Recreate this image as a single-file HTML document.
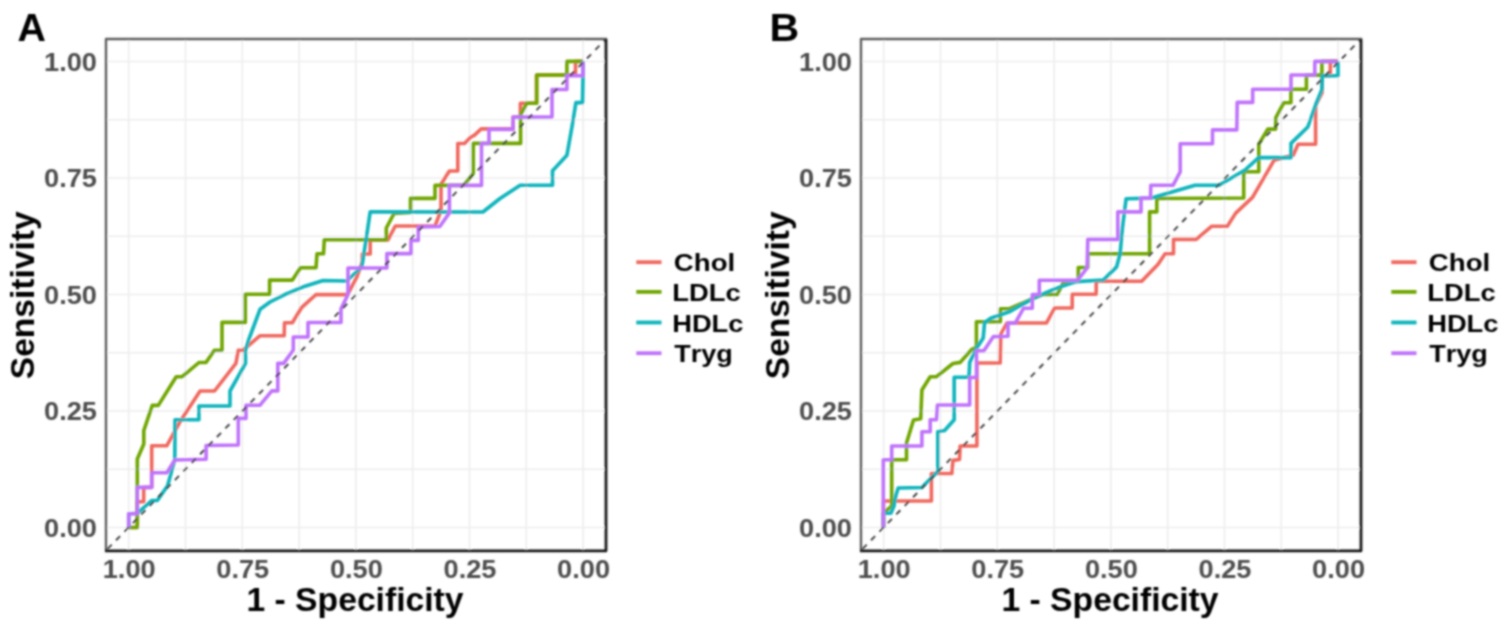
<!DOCTYPE html>
<html><head><meta charset="utf-8"><style>
html,body{margin:0;padding:0;background:#fff;overflow:hidden;width:1499px;height:627px;}
svg{display:block;}
text{font-family:"Liberation Sans", sans-serif;font-weight:bold;font-kerning:none;}
</style></head><body>
<svg width="1499" height="627" viewBox="0 0 1499 627">
<defs><filter id="bl" x="0" y="0" width="1499" height="627" filterUnits="userSpaceOnUse"><feConvolveMatrix order="5" kernelMatrix="0.00212 0.01118 0.01946 0.01118 0.00212 0.01118 0.05892 0.10253 0.05892 0.01118 0.01946 0.10253 0.17843 0.10253 0.01946 0.01118 0.05892 0.10253 0.05892 0.01118 0.00212 0.01118 0.01946 0.01118 0.00212" divisor="1" edgeMode="duplicate" preserveAlpha="false"/></filter></defs>
<rect width="1499" height="627" fill="#fff"/>
<g filter="url(#bl)">
<g stroke="#EDEDED" stroke-width="1.6"><line x1="128.70" y1="39" x2="128.70" y2="550.5" /><line x1="106" y1="527.50" x2="606" y2="527.50" /><line x1="185.50" y1="39" x2="185.50" y2="550.5" /><line x1="106" y1="469.25" x2="606" y2="469.25" /><line x1="242.30" y1="39" x2="242.30" y2="550.5" /><line x1="106" y1="411.00" x2="606" y2="411.00" /><line x1="299.10" y1="39" x2="299.10" y2="550.5" /><line x1="106" y1="352.75" x2="606" y2="352.75" /><line x1="355.90" y1="39" x2="355.90" y2="550.5" /><line x1="106" y1="294.50" x2="606" y2="294.50" /><line x1="412.70" y1="39" x2="412.70" y2="550.5" /><line x1="106" y1="236.25" x2="606" y2="236.25" /><line x1="469.50" y1="39" x2="469.50" y2="550.5" /><line x1="106" y1="178.00" x2="606" y2="178.00" /><line x1="526.30" y1="39" x2="526.30" y2="550.5" /><line x1="106" y1="119.75" x2="606" y2="119.75" /><line x1="583.10" y1="39" x2="583.10" y2="550.5" /><line x1="106" y1="61.50" x2="606" y2="61.50" /></g>
<polyline points="128.7,527.5 137.3,527.5 137.3,501.8 143.7,501.8 143.7,487.4 151.7,487.4 151.7,445.8 166.7,445.8 179.8,422.1 200.1,391.0 214.5,391.0 235.9,363.4 238.3,350.2 243.1,350.2 259.8,335.8 284.2,335.8 284.5,322.8 292.3,322.8 301.5,307.7 315.9,294.6 347.6,294.6 356.8,277.1 362.3,262.0 362.3,254.0 370.2,254.0 370.2,239.9 388.0,239.9 395.3,226.0 435.0,226.0 441.0,210.5 441.0,184.2 449.4,171.0 457.8,171.0 457.8,143.5 464.5,143.5 470.6,137.3 474.5,135.1 481.2,128.9 513.1,128.9 513.1,117.0 520.4,117.0 520.4,103.3 536.5,103.3 536.5,75.0 575.5,75.0 575.5,61.4 583.0,61.4" fill="none" stroke="#F0685E" stroke-width="3.6" stroke-linejoin="round" stroke-linecap="butt"/>
<polyline points="128.7,527.5 137.3,527.5 137.3,459.0 143.8,444.0 143.8,430.5 152.3,405.4 158.3,405.4 176.2,376.7 182.2,376.7 199.0,362.5 206.0,362.5 214.4,350.2 222.0,350.2 222.0,322.4 245.3,322.4 245.3,294.3 269.6,294.3 269.6,280.1 292.4,280.1 300.5,267.7 316.0,267.7 317.0,253.8 323.5,253.8 324.3,239.7 386.3,239.7 386.3,228.0 394.0,213.5 410.5,212.5 410.5,198.4 435.0,198.4 435.0,185.4 463.7,185.4 473.3,173.4 473.3,143.4 520.6,143.4 520.6,114.7 526.7,103.3 536.7,103.3 536.7,75.0 566.9,75.0 566.9,61.4 583.0,61.4" fill="none" stroke="#6FA600" stroke-width="3.6" stroke-linejoin="round" stroke-linecap="butt"/>
<polyline points="128.7,527.5 128.7,513.7 137.5,513.2 151.7,500.5 157.3,500.5 167.6,485.8 174.8,459.5 175.0,419.7 198.9,419.7 198.9,406.0 230.0,406.0 230.0,391.0 245.5,363.4 245.5,350.2 248.6,340.0 260.1,309.2 270.0,302.0 285.2,294.3 305.0,286.2 323.1,280.5 346.7,281.0 361.8,267.0 366.0,240.2 370.2,211.7 482.9,212.0 500.0,198.5 520.2,185.2 552.5,185.2 552.5,170.8 566.9,155.3 572.3,125.0 575.9,102.6 582.5,102.6 583.0,75.7 583.0,61.5" fill="none" stroke="#0AB4BC" stroke-width="3.6" stroke-linejoin="round" stroke-linecap="butt"/>
<polyline points="128.7,527.5 128.7,513.7 137.3,513.7 137.3,487.4 151.7,487.4 151.7,472.7 166.8,472.7 174.8,460.0 206.1,459.3 206.1,445.5 238.3,445.0 238.3,418.4 246.0,418.4 246.0,405.3 259.8,405.3 271.8,390.9 277.8,390.9 277.8,363.4 283.7,363.4 293.3,350.0 293.3,337.0 308.0,337.0 308.0,322.5 341.0,322.5 341.0,308.9 348.0,294.5 348.0,268.0 386.9,268.0 386.9,253.6 411.0,253.6 411.0,240.4 418.3,240.4 418.3,227.0 439.8,226.5 449.4,212.9 449.4,185.4 481.5,185.4 481.5,143.5 489.0,143.5 489.0,129.4 513.0,129.4 513.0,117.1 552.0,117.0 552.0,89.5 566.9,89.5 566.9,75.7 583.0,75.7 583.0,61.5" fill="none" stroke="#BF72FB" stroke-width="3.6" stroke-linejoin="round" stroke-linecap="butt"/>
<line x1="106" y1="550.5" x2="606" y2="39" stroke="#404040" stroke-width="1.9" stroke-dasharray="5.9 6.13" stroke-dashoffset="9.75" />
<path d="M106,550.5 L106,39 L606,39" fill="none" stroke="#5e5e5e" stroke-width="2.4" stroke-linejoin="round" stroke-linecap="square"/>
<path d="M105,550.8 L606,550.8 L606,39" fill="none" stroke="#121212" stroke-width="2.8" stroke-linejoin="round"/>
<text x="44.07" y="536.70" font-size="25.3" textLength="52.93" lengthAdjust="spacingAndGlyphs" fill="#4D4D4D">0.00</text>
<text x="44.07" y="420.20" font-size="25.3" textLength="52.93" lengthAdjust="spacingAndGlyphs" fill="#4D4D4D">0.25</text>
<text x="44.07" y="303.70" font-size="25.3" textLength="52.93" lengthAdjust="spacingAndGlyphs" fill="#4D4D4D">0.50</text>
<text x="44.07" y="187.20" font-size="25.3" textLength="52.93" lengthAdjust="spacingAndGlyphs" fill="#4D4D4D">0.75</text>
<text x="44.07" y="70.70" font-size="25.3" textLength="52.93" lengthAdjust="spacingAndGlyphs" fill="#4D4D4D">1.00</text>
<text x="557.13" y="577.65" font-size="25.3" textLength="52.93" lengthAdjust="spacingAndGlyphs" fill="#4D4D4D">0.00</text>
<text x="443.53" y="577.65" font-size="25.3" textLength="52.93" lengthAdjust="spacingAndGlyphs" fill="#4D4D4D">0.25</text>
<text x="329.93" y="577.65" font-size="25.3" textLength="52.93" lengthAdjust="spacingAndGlyphs" fill="#4D4D4D">0.50</text>
<text x="216.33" y="577.65" font-size="25.3" textLength="52.93" lengthAdjust="spacingAndGlyphs" fill="#4D4D4D">0.75</text>
<text x="102.73" y="577.65" font-size="25.3" textLength="52.93" lengthAdjust="spacingAndGlyphs" fill="#4D4D4D">1.00</text>
<text x="246.48" y="610.90" font-size="32.5" textLength="217.10" lengthAdjust="spacingAndGlyphs" fill="#000">1 - Specificity</text>
<text transform="translate(33.80,379.17) rotate(-90)" x="0" y="0" font-size="32.5" textLength="167.75" lengthAdjust="spacingAndGlyphs" fill="#000">Sensitivity</text>
<text x="17.62" y="40.80" font-size="39.5" textLength="28.42" lengthAdjust="spacingAndGlyphs" fill="#000">A</text>
<line x1="636.3" y1="262.2" x2="661.5" y2="262.2" stroke="#F0685E" stroke-width="3.8"/>
<text x="673.87" y="271.20" font-size="24.5" textLength="61.39" lengthAdjust="spacingAndGlyphs" fill="#000">Chol</text>
<line x1="636.3" y1="291.9" x2="661.5" y2="291.9" stroke="#6FA600" stroke-width="3.8"/>
<text x="672.37" y="300.50" font-size="24.5" textLength="68.43" lengthAdjust="spacingAndGlyphs" fill="#000">LDLc</text>
<line x1="636.3" y1="322.5" x2="661.5" y2="322.5" stroke="#0AB4BC" stroke-width="3.8"/>
<text x="672.17" y="332.20" font-size="24.5" textLength="71.33" lengthAdjust="spacingAndGlyphs" fill="#000">HDLc</text>
<line x1="636.3" y1="353.2" x2="661.5" y2="353.2" stroke="#BF72FB" stroke-width="3.8"/>
<text x="674.30" y="362.00" font-size="24.5" textLength="58.51" lengthAdjust="spacingAndGlyphs" fill="#000">Tryg</text>
<g stroke="#EDEDED" stroke-width="1.6"><line x1="883.70" y1="39" x2="883.70" y2="550.5" /><line x1="861" y1="527.50" x2="1361" y2="527.50" /><line x1="940.50" y1="39" x2="940.50" y2="550.5" /><line x1="861" y1="469.25" x2="1361" y2="469.25" /><line x1="997.30" y1="39" x2="997.30" y2="550.5" /><line x1="861" y1="411.00" x2="1361" y2="411.00" /><line x1="1054.10" y1="39" x2="1054.10" y2="550.5" /><line x1="861" y1="352.75" x2="1361" y2="352.75" /><line x1="1110.90" y1="39" x2="1110.90" y2="550.5" /><line x1="861" y1="294.50" x2="1361" y2="294.50" /><line x1="1167.70" y1="39" x2="1167.70" y2="550.5" /><line x1="861" y1="236.25" x2="1361" y2="236.25" /><line x1="1224.50" y1="39" x2="1224.50" y2="550.5" /><line x1="861" y1="178.00" x2="1361" y2="178.00" /><line x1="1281.30" y1="39" x2="1281.30" y2="550.5" /><line x1="861" y1="119.75" x2="1361" y2="119.75" /><line x1="1338.10" y1="39" x2="1338.10" y2="550.5" /><line x1="861" y1="61.50" x2="1361" y2="61.50" /></g>
<polyline points="883.5,527.5 883.5,501.0 931.4,501.0 931.4,473.5 951.8,473.5 953.0,460.4 959.5,459.5 960.1,446.0 976.9,446.0 976.9,363.0 1000.2,363.0 1000.8,334.0 1006.9,323.0 1046.5,322.9 1054.6,308.0 1072.2,308.0 1072.2,294.3 1096.2,294.3 1096.2,281.2 1141.7,281.2 1149.6,272.9 1157.9,264.5 1165.1,253.7 1173.5,253.7 1173.5,239.4 1196.2,239.4 1211.8,226.2 1227.3,226.2 1235.7,213.1 1252.5,197.4 1274.0,160.3 1293.3,155.0 1298.1,144.2 1315.6,144.2 1315.6,105.2 1322.0,93.0 1322.0,75.7 1330.3,75.7 1330.3,61.4 1338.0,61.4" fill="none" stroke="#F0685E" stroke-width="3.6" stroke-linejoin="round" stroke-linecap="butt"/>
<polyline points="883.5,527.5 883.5,513.0 886.4,510.7 891.7,506.0 891.7,459.7 906.5,459.7 906.5,443.0 913.5,420.0 920.7,418.8 921.9,390.0 930.2,376.8 936.2,376.8 953.0,363.5 960.2,362.4 971.7,349.5 976.4,347.5 976.4,321.7 1000.4,321.7 1000.4,308.7 1010.0,308.5 1042.4,294.5 1057.3,294.5 1063.0,283.0 1078.3,281.0 1078.3,267.5 1087.8,267.5 1087.8,253.8 1149.6,253.7 1149.6,211.9 1156.8,211.9 1156.8,198.5 1243.7,198.0 1243.7,171.7 1258.8,171.7 1258.8,144.2 1267.8,129.1 1275.7,129.1 1275.7,117.9 1283.7,102.8 1290.9,102.8 1290.9,89.3 1306.4,89.3 1306.4,75.1 1321.9,75.1 1321.9,61.4 1337.8,61.4" fill="none" stroke="#6FA600" stroke-width="3.6" stroke-linejoin="round" stroke-linecap="butt"/>
<polyline points="883.5,527.5 883.3,513.3 890.8,513.3 894.0,506.0 896.0,495.0 898.2,488.0 921.8,487.5 937.8,471.5 937.8,431.7 944.6,430.5 954.2,419.7 954.2,377.3 969.0,377.3 969.7,362.4 977.1,347.5 983.2,338.0 984.6,322.4 990.7,318.3 1010.0,311.5 1015.3,308.5 1035.7,297.2 1056.0,288.4 1076.3,281.6 1103.4,280.0 1116.6,266.9 1120.1,253.7 1122.5,227.4 1126.1,198.7 1151.5,198.1 1195.0,185.3 1219.0,185.3 1245.0,170.0 1258.7,157.6 1291.0,157.6 1291.0,143.4 1307.8,127.0 1316.0,104.0 1321.9,89.5 1322.3,75.7 1338.0,75.7 1338.0,61.5" fill="none" stroke="#0AB4BC" stroke-width="3.6" stroke-linejoin="round" stroke-linecap="butt"/>
<polyline points="883.3,527.5 883.3,459.7 891.7,459.7 891.7,446.0 921.9,446.0 921.9,431.7 930.2,431.7 930.2,419.7 936.5,419.7 937.4,405.0 969.7,405.0 969.7,377.5 976.5,377.5 976.5,350.8 983.9,350.8 993.4,336.6 1008.0,336.2 1008.0,323.0 1015.3,323.0 1023.5,308.3 1032.3,308.3 1032.3,294.5 1039.3,294.5 1039.3,280.2 1077.7,280.2 1087.1,268.0 1087.8,239.4 1117.8,239.4 1117.8,211.9 1141.0,211.9 1141.0,198.1 1150.5,198.1 1150.8,185.3 1173.0,185.3 1180.2,171.8 1180.2,143.7 1212.5,143.7 1212.5,129.9 1236.8,129.9 1237.2,102.4 1252.7,102.4 1252.7,89.3 1291.0,89.3 1291.0,75.0 1314.8,75.0 1314.8,61.4 1337.8,61.4" fill="none" stroke="#BF72FB" stroke-width="3.6" stroke-linejoin="round" stroke-linecap="butt"/>
<line x1="861" y1="550.5" x2="1361" y2="39" stroke="#404040" stroke-width="1.9" stroke-dasharray="5.9 6.13" stroke-dashoffset="9.75" />
<path d="M861,550.5 L861,39 L1361,39" fill="none" stroke="#5e5e5e" stroke-width="2.4" stroke-linejoin="round" stroke-linecap="square"/>
<path d="M860,550.8 L1361,550.8 L1361,39" fill="none" stroke="#121212" stroke-width="2.8" stroke-linejoin="round"/>
<text x="799.07" y="536.70" font-size="25.3" textLength="52.93" lengthAdjust="spacingAndGlyphs" fill="#4D4D4D">0.00</text>
<text x="799.07" y="420.20" font-size="25.3" textLength="52.93" lengthAdjust="spacingAndGlyphs" fill="#4D4D4D">0.25</text>
<text x="799.07" y="303.70" font-size="25.3" textLength="52.93" lengthAdjust="spacingAndGlyphs" fill="#4D4D4D">0.50</text>
<text x="799.07" y="187.20" font-size="25.3" textLength="52.93" lengthAdjust="spacingAndGlyphs" fill="#4D4D4D">0.75</text>
<text x="799.07" y="70.70" font-size="25.3" textLength="52.93" lengthAdjust="spacingAndGlyphs" fill="#4D4D4D">1.00</text>
<text x="1312.13" y="577.65" font-size="25.3" textLength="52.93" lengthAdjust="spacingAndGlyphs" fill="#4D4D4D">0.00</text>
<text x="1198.53" y="577.65" font-size="25.3" textLength="52.93" lengthAdjust="spacingAndGlyphs" fill="#4D4D4D">0.25</text>
<text x="1084.93" y="577.65" font-size="25.3" textLength="52.93" lengthAdjust="spacingAndGlyphs" fill="#4D4D4D">0.50</text>
<text x="971.33" y="577.65" font-size="25.3" textLength="52.93" lengthAdjust="spacingAndGlyphs" fill="#4D4D4D">0.75</text>
<text x="857.73" y="577.65" font-size="25.3" textLength="52.93" lengthAdjust="spacingAndGlyphs" fill="#4D4D4D">1.00</text>
<text x="1001.48" y="610.90" font-size="32.5" textLength="217.10" lengthAdjust="spacingAndGlyphs" fill="#000">1 - Specificity</text>
<text transform="translate(788.80,379.17) rotate(-90)" x="0" y="0" font-size="32.5" textLength="167.75" lengthAdjust="spacingAndGlyphs" fill="#000">Sensitivity</text>
<text x="769.45" y="40.80" font-size="39.5" textLength="29.72" lengthAdjust="spacingAndGlyphs" fill="#000">B</text>
<line x1="1391.3" y1="262.2" x2="1416.5" y2="262.2" stroke="#F0685E" stroke-width="3.8"/>
<text x="1428.87" y="271.20" font-size="24.5" textLength="61.39" lengthAdjust="spacingAndGlyphs" fill="#000">Chol</text>
<line x1="1391.3" y1="291.9" x2="1416.5" y2="291.9" stroke="#6FA600" stroke-width="3.8"/>
<text x="1427.37" y="300.50" font-size="24.5" textLength="68.43" lengthAdjust="spacingAndGlyphs" fill="#000">LDLc</text>
<line x1="1391.3" y1="322.5" x2="1416.5" y2="322.5" stroke="#0AB4BC" stroke-width="3.8"/>
<text x="1427.17" y="332.20" font-size="24.5" textLength="71.33" lengthAdjust="spacingAndGlyphs" fill="#000">HDLc</text>
<line x1="1391.3" y1="353.2" x2="1416.5" y2="353.2" stroke="#BF72FB" stroke-width="3.8"/>
<text x="1429.30" y="362.00" font-size="24.5" textLength="58.51" lengthAdjust="spacingAndGlyphs" fill="#000">Tryg</text>
</g>
</svg>
</body></html>
